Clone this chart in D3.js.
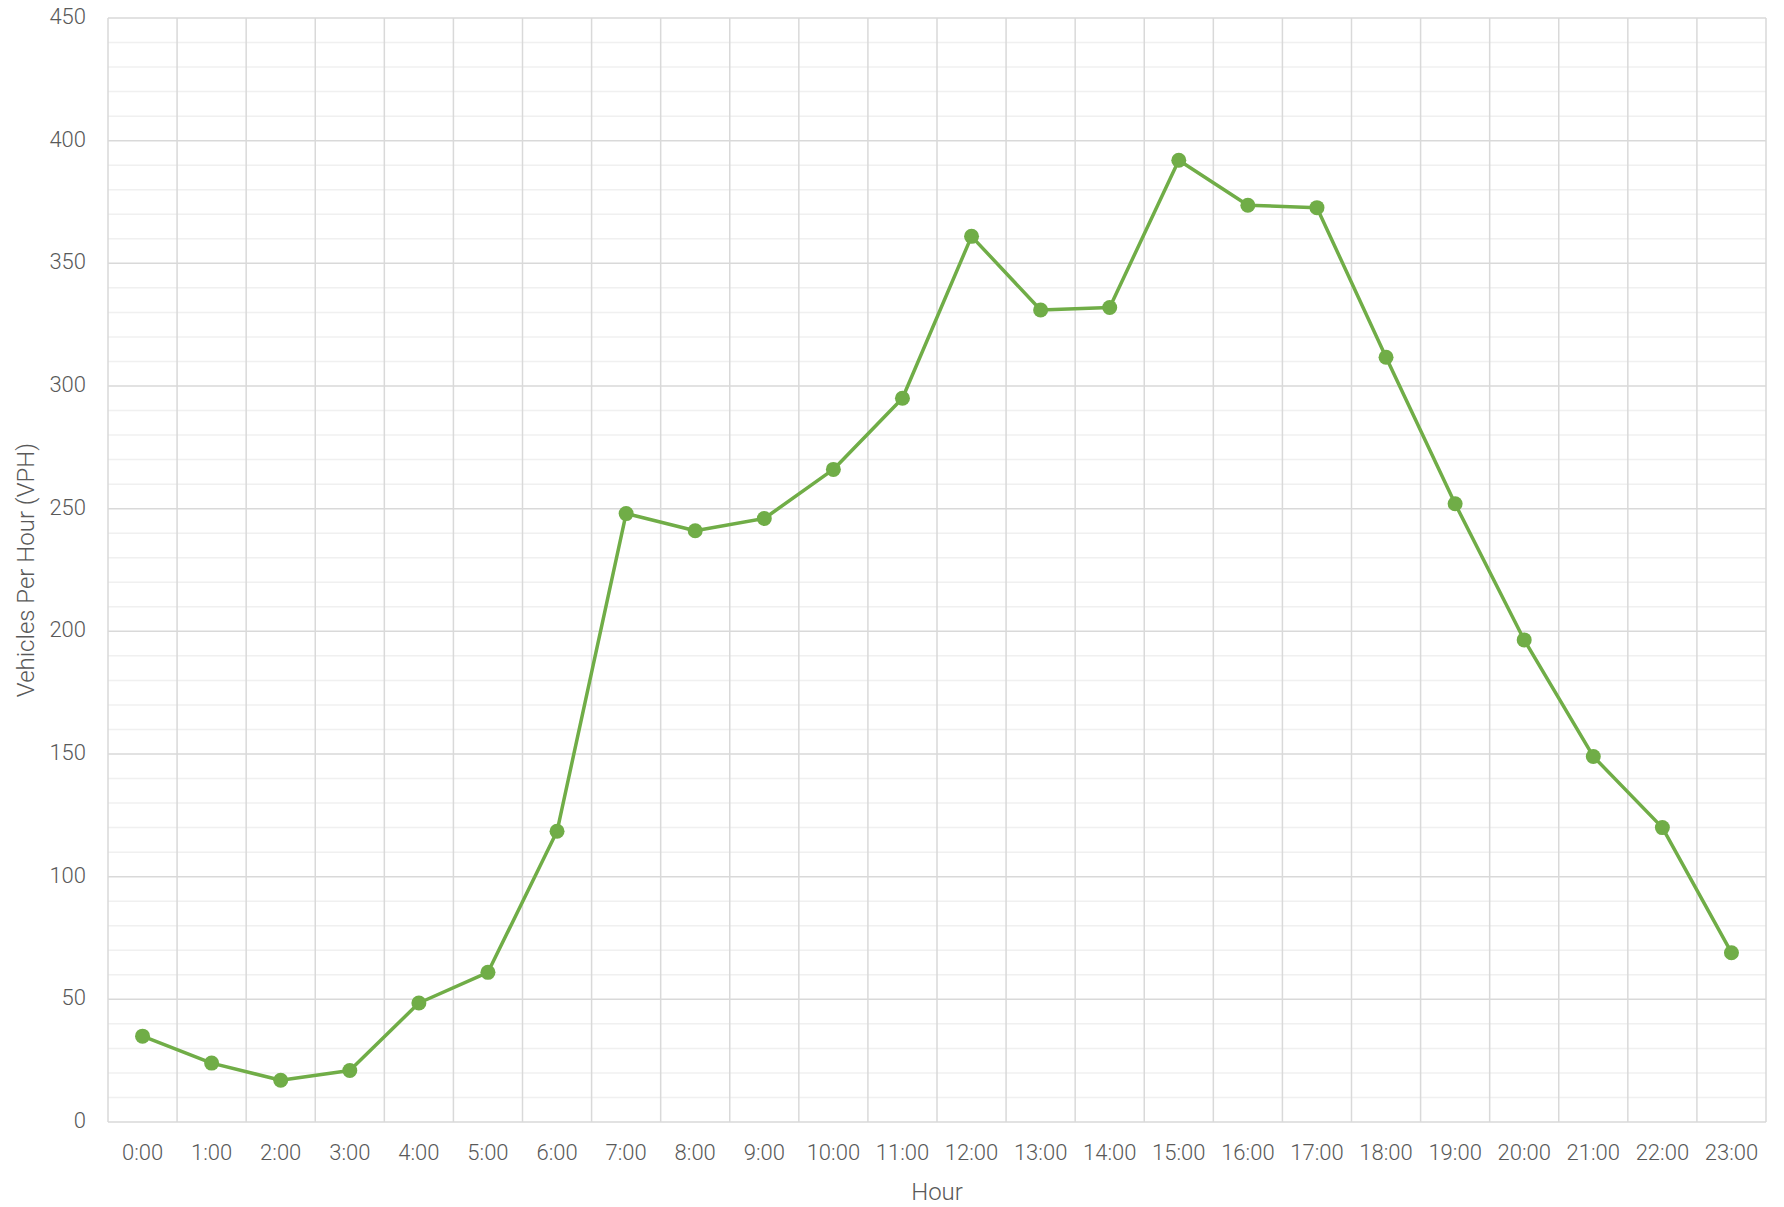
<!DOCTYPE html>
<html>
<head>
<meta charset="utf-8">
<script src="https://cdn.jsdelivr.net/npm/d3@7"></script>
<style>
  html, body { margin: 0; padding: 0; background: #ffffff; }
  svg { display: block; }
  text { font-family: Roboto, "Liberation Sans", sans-serif; fill: #595959; font-weight: 300; }
</style>
</head>
<body>
<script>
const hours = ["0:00","1:00","2:00","3:00","4:00","5:00","6:00","7:00","8:00","9:00","10:00","11:00",
  "12:00","13:00","14:00","15:00","16:00","17:00","18:00","19:00","20:00","21:00","22:00","23:00"];
const vph = [35, 24, 17, 21, 48.5, 61, 118.5, 248, 241, 246, 266, 295,
  361, 331, 332, 392, 373.7, 372.7, 311.7, 252, 196.5, 149, 120, 69];
const yTicks = [0, 50, 100, 150, 200, 250, 300, 350, 400, 450];
const yMinor = d3.range(0, 451, 10);
const xTitle = "Hour";
const yTitle = "Vehicles Per Hour (VPH)";

const W = 1784, H = 1207;
const m = { left: 108, top: 18, right: W - 1766, bottom: H - 1122 };
const iw = W - m.left - m.right, ih = H - m.top - m.bottom;

const svg = d3.select("body").append("svg").attr("width", W).attr("height", H);
const g = svg.append("g").attr("transform", `translate(${m.left},${m.top})`);

const x = d3.scaleBand().domain(hours).range([0, iw]).padding(0);
const y = d3.scaleLinear().domain([0, 450]).range([ih, 0]);

// minor horizontal gridlines
g.append("g").selectAll("line").data(yMinor.filter(v => v % 50 !== 0)).join("line")
  .attr("x1", 0).attr("x2", iw)
  .attr("y1", d => y(d)).attr("y2", d => y(d))
  .attr("stroke", "#f0f0f0").attr("stroke-width", 1.5);

// major horizontal gridlines
g.append("g").selectAll("line").data(yTicks).join("line")
  .attr("x1", 0).attr("x2", iw)
  .attr("y1", d => y(d)).attr("y2", d => y(d))
  .attr("stroke", "#d9d9d9").attr("stroke-width", 1.5);

// vertical gridlines at category boundaries
const bounds = hours.map(h => x(h)).concat([iw]);
g.append("g").selectAll("line").data(bounds).join("line")
  .attr("x1", d => d).attr("x2", d => d)
  .attr("y1", 0).attr("y2", ih)
  .attr("stroke", "#d9d9d9").attr("stroke-width", 1.5);

// y axis labels
const yAxis = g.append("g").call(d3.axisLeft(y).tickValues(yTicks).tickSize(0).tickPadding(22));
yAxis.select(".domain").remove();
yAxis.selectAll("text").style("font-size", "22px").style("font-weight", "300")
  .attr("fill", "#595959").attr("dy", "0.25em");

// x axis labels
const xAxis = g.append("g").attr("transform", `translate(0,${ih})`)
  .call(d3.axisBottom(x).tickSize(0).tickPadding(22));
xAxis.select(".domain").remove();
xAxis.selectAll("text").style("font-size", "22px").style("font-weight", "300").attr("fill", "#595959");

// line
const pts = hours.map((h, i) => ({ h, v: vph[i] }));
g.append("path").datum(pts)
  .attr("fill", "none").attr("stroke", "#70ad47").attr("stroke-width", 3.5)
  .attr("stroke-linejoin", "round")
  .attr("d", d3.line().x(d => x(d.h) + x.bandwidth() / 2).y(d => y(d.v)));

g.append("g").selectAll("circle").data(pts).join("circle")
  .attr("cx", d => x(d.h) + x.bandwidth() / 2).attr("cy", d => y(d.v))
  .attr("r", 7.5).attr("fill", "#70ad47");

// axis titles
svg.append("text").attr("x", m.left + iw / 2).attr("y", 1200)
  .attr("text-anchor", "middle").style("font-size", "24px").text(xTitle);
svg.append("text")
  .attr("transform", `translate(34,${m.top + ih / 2}) rotate(-90)`)
  .attr("text-anchor", "middle").style("font-size", "24px").text(yTitle);
</script>
</body>
</html>
